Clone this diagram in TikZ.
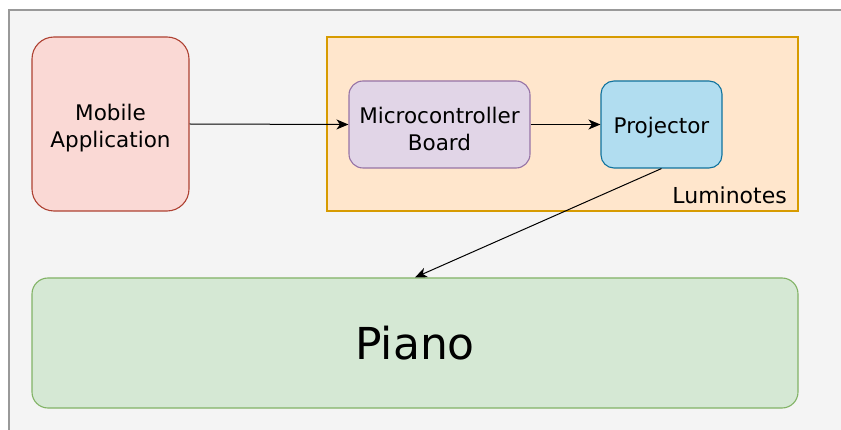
\documentclass[tikz,border=0pt]{standalone}
\usepackage{fontspec}
\setmainfont{DejaVu Sans}
\usetikzlibrary{arrows.meta}

\definecolor{pagebg}{HTML}{F4F4F4}
\definecolor{pageline}{HTML}{999999}
\definecolor{redfill}{HTML}{FAD9D5}
\definecolor{redline}{HTML}{AE4132}
\definecolor{orangefill}{HTML}{FFE6CC}
\definecolor{orangeline}{HTML}{D79B00}
\definecolor{purplefill}{HTML}{E1D5E7}
\definecolor{purpleline}{HTML}{9673A6}
\definecolor{bluefill}{HTML}{B1DDF0}
\definecolor{blueline}{HTML}{10739E}
\definecolor{greenfill}{HTML}{D5E8D4}
\definecolor{greenline}{HTML}{82B366}

\tikzset{
  box/.style={draw, line width=1.1pt, inner sep=0pt},
  boxtext/.style={align=center, inner sep=0pt, yshift=-4pt,
    font=\fontsize{21.5}{27}\selectfont},
  link/.style={draw=black, line width=1pt,
    -{Stealth[length=12pt,width=10pt,inset=3.5pt]}},
}

\begin{document}
\begin{tikzpicture}[x=1pt, y=-1pt]
  % canvas
  \useasboundingbox (0,0) rectangle (841,430);
  \fill[white] (0,0) rectangle (841,430);
  \fill[pagebg] (9,10) rectangle (843,432);
  \draw[pageline, line width=1.3pt] (9,432) -- (9,10) -- (843,10);

  % device group
  \node[box, draw=orangeline, fill=orangefill, minimum width=471pt,
        minimum height=174pt] (lum) at (562.5,124) {};
  \node[anchor=base east, inner sep=0pt, font=\fontsize{22}{26}\selectfont]
        (lumlabel) at (787,204) {Luminotes};

  % components
  \node[box, draw=redline, fill=redfill, rounded corners=22pt,
        minimum width=157pt, minimum height=174pt] (app) at (110.5,124) {};
  \node[boxtext] (apptext) at (app.center) {Mobile\\Application};

  \node[box, draw=purpleline, fill=purplefill, rounded corners=14pt,
        minimum width=181pt, minimum height=87pt] (mcu) at (439.5,124.5) {};
  \node[boxtext] (mcutext) at (mcu.center) {Microcontroller\\Board};

  \node[box, draw=blueline, fill=bluefill, rounded corners=13pt,
        minimum width=121pt, minimum height=87pt] (proj) at (661.5,124.5) {};
  \node[boxtext, yshift=1pt] (projtext) at (proj.center) {Projector};

  \node[box, draw=greenline, fill=greenfill, rounded corners=16pt,
        minimum width=766pt, minimum height=130pt] (piano) at (415,343) {};
  \node[inner sep=0pt, font=\fontsize{44}{50}\selectfont] (pianotext)
        at (piano.center) {Piano};

  % connections
  \draw[link] (app.east) -- (mcu.west);
  \draw[link] (mcu.east) -- (proj.west);
  \draw[link] (proj.south) -- (piano.north);
\end{tikzpicture}
\end{document}
